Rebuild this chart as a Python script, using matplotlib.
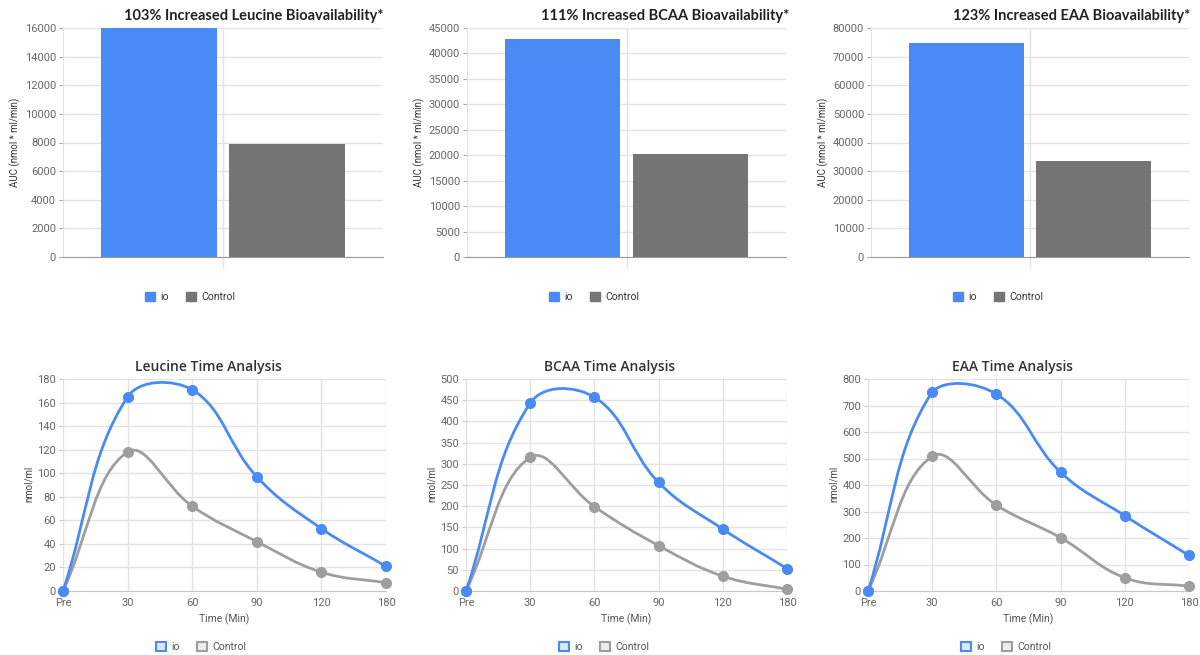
import numpy as np
import matplotlib.pyplot as plt
from matplotlib.path import Path
from matplotlib.patches import PathPatch, Patch

# ---- data ----
bar_titles = ["103% Increased Leucine Bioavailability*",
              "111% Increased BCAA Bioavailability*",
              "123% Increased EAA Bioavailability*"]
bar_io = [16040, 42800, 74800]
bar_control = [7900, 20300, 33600]
bar_ymax = [16000, 45000, 80000]
bar_ystep = [2000, 5000, 10000]

time_labels = ["Pre", "30", "60", "90", "120", "180"]
line_titles = ["Leucine Time Analysis", "BCAA Time Analysis", "EAA Time Analysis"]
leucine_io = [0, 165, 171, 97, 53, 21]
leucine_control = [0, 118, 72, 42, 16, 7]
bcaa_io = [0, 443, 457, 256, 146, 53]
bcaa_control = [0, 315, 199, 107, 35, 4]
eaa_io = [0, 751, 743, 448, 284, 134]
eaa_control = [0, 508, 324, 201, 50, 18]
line_ymax = [180, 500, 800]
line_ystep = [20, 50, 100]

BLUE = "#4a8af4"
GRAY_BAR = "#757575"
GRAY_LINE = "#9e9e9e"
TICK_C = "#666666"
GRID_C = "#e3e3e3"

plt.rcParams["font.family"] = ["Roboto", "DejaVu Sans"]

W, H = 1200, 655
fig = plt.figure(figsize=(12, 6.55), dpi=100)


def px_axes(left, right, top, bottom):
    return fig.add_axes([left / W, 1 - bottom / H, (right - left) / W, (bottom - top) / H])


def chartjs_curve(ax, ys, color, tension=0.4):
    # cubic spline like Chart.js (tension 0.4), computed in pixel space
    pts = ax.transData.transform(np.column_stack([np.arange(len(ys)), ys]))
    y_lo, y_hi = ax.transData.transform([[0, 0], [0, ax.get_ylim()[1]]])[:, 1]
    n = len(pts)
    cps = []
    for i in range(n):
        prev = pts[max(i - 1, 0)]
        cur = pts[i]
        nxt = pts[min(i + 1, n - 1)]
        d01 = np.hypot(*(cur - prev))
        d12 = np.hypot(*(nxt - cur))
        tot = d01 + d12
        s01 = d01 / tot if tot else 0
        s12 = d12 / tot if tot else 0
        cp_prev = cur - tension * s01 * (nxt - prev)
        cp_next = cur + tension * s12 * (nxt - prev)
        cp_prev[1] = np.clip(cp_prev[1], y_lo, y_hi)
        cp_next[1] = np.clip(cp_next[1], y_lo, y_hi)
        cps.append((cp_prev, cp_next))
    verts = [pts[0]]
    codes = [Path.MOVETO]
    for i in range(n - 1):
        verts += [cps[i][1], cps[i + 1][0], pts[i + 1]]
        codes += [Path.CURVE4] * 3
    verts = ax.transData.inverted().transform(np.array(verts))
    ax.add_patch(PathPatch(Path(verts, codes), fill=False, edgecolor=color,
                           lw=2.0, zorder=3, capstyle="round"))


# ---- bar charts ----
bar_pos = [(63, 383), (467, 786), (871, 1189)]
title_right = [383, 789, 1190]
for k in range(3):
    l, r = bar_pos[k]
    ax = px_axes(l, r, 28, 257)
    ax.bar([-0.5], [bar_io[k]], width=0.9, color=BLUE, zorder=2)
    ax.bar([0.5], [bar_control[k]], width=0.9, color=GRAY_BAR, zorder=2)
    ax.set_xlim(-1.25, 1.25)
    ax.set_ylim(0, bar_ymax[k])
    ax.set_yticks(np.arange(0, bar_ymax[k] + 1, bar_ystep[k]))
    ax.set_xticks([0])
    ax.set_xticklabels([""])
    ax.tick_params(axis="x", length=8, color=GRID_C, width=1)
    ax.tick_params(axis="y", length=3, color="#aaaaaa", labelsize=8, labelcolor=TICK_C, pad=2)
    ax.grid(True, color=GRID_C, lw=1, zorder=0)
    for s in ["top", "right"]:
        ax.spines[s].set_visible(False)
    ax.spines["left"].set_color(GRID_C)
    ax.spines["bottom"].set_color("#999999")
    ax.spines["bottom"].set_zorder(3)
    fig.text(title_right[k] / W, 1 - 16 / H, bar_titles[k], ha="right", va="center",
             fontsize=10.5, fontweight="bold", family=["Lato", "DejaVu Sans"], color="#222222")
    fig.text((l - 48) / W, 1 - 142 / H, "AUC (nmol * ml/min)", rotation=90,
             ha="center", va="center", fontsize=7, color="#333333")
    fig.legend(handles=[Patch(color=BLUE, label="io"), Patch(color=GRAY_BAR, label="Control")],
               loc="center", bbox_to_anchor=((l + 127) / W, 1 - 297 / H),
               bbox_transform=fig.transFigure, ncol=2, frameon=False, fontsize=7.5,
               handlelength=1.0, handleheight=1.0, columnspacing=1.6, handletextpad=0.5,
               labelcolor="#333333")

# ---- line charts ----
line_pos = [(63, 386), (466, 787), (868, 1189)]
line_title_x = [208, 610, 1012]
io_series = [leucine_io, bcaa_io, eaa_io]
control_series = [leucine_control, bcaa_control, eaa_control]
for k in range(3):
    l, r = line_pos[k]
    ax = px_axes(l, r, 379, 591)
    x = np.arange(len(time_labels))
    ax.set_xlim(0, len(time_labels) - 1)
    ax.set_ylim(0, line_ymax[k])
    ax.set_yticks(np.arange(0, line_ymax[k] + 1, line_ystep[k]))
    ax.set_xticks(x)
    ax.set_xticklabels(time_labels)
    ax.tick_params(axis="x", length=0, labelsize=8, labelcolor=TICK_C, pad=5)
    ax.tick_params(axis="y", length=3, color="#cccccc", labelsize=8, labelcolor=TICK_C, pad=2)
    ax.grid(True, color=GRID_C, lw=1, zorder=0)
    for s in ["top", "right", "left"]:
        ax.spines[s].set_visible(False)
    ax.spines["bottom"].set_color("#c8c8c8")
    chartjs_curve(ax, control_series[k], GRAY_LINE)
    chartjs_curve(ax, io_series[k], BLUE)
    ax.plot(x, control_series[k], ls="none", marker="o", ms=7, color=GRAY_LINE, zorder=4, clip_on=False)
    ax.plot(x, io_series[k], ls="none", marker="o", ms=7, color=BLUE, zorder=5, clip_on=False)
    fig.text(line_title_x[k] / W, 1 - 367 / H, line_titles[k], ha="center", va="center",
             fontsize=10, fontweight="semibold", family=["Open Sans", "DejaVu Sans"], color="#333333")
    fig.text((l - 34) / W, 1 - 484 / H, "nmol/ml", rotation=90,
             ha="center", va="center", fontsize=7, color="#444444")
    fig.text((l + r) / 2 / W, 1 - 619 / H, "Time (Min)", ha="center", va="center",
             fontsize=7.5, color="#555555")
    fig.legend(handles=[Patch(facecolor="#dce8fd", edgecolor=BLUE, lw=1.5, label="io"),
                        Patch(facecolor="#eeeeee", edgecolor=GRAY_LINE, lw=1.5, label="Control")],
               loc="center", bbox_to_anchor=((l + 138) / W, 1 - 647 / H),
               bbox_transform=fig.transFigure, ncol=2, frameon=False, fontsize=7.5,
               handlelength=1.0, handleheight=1.0, columnspacing=1.6, handletextpad=0.5,
               labelcolor="#555555")

fig.savefig("out.png", dpi=100)
